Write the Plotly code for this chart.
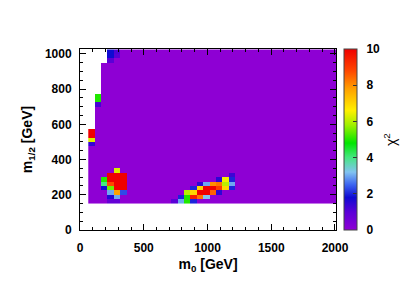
import numpy as np
import plotly.graph_objects as go

# ---- grid of the scan (bin centres) ----
m0_centers = [90 + 50 * k for k in range(39)]          # GeV
m12_centers = [162.5 + 25 * j for j in range(35)]      # GeV

# ---- region covered by the scan: lower m0 edge for bands in m1/2 ----
band_top_m12 = [575, 775, 950, 1025]
band_min_m0 = [65, 115, 165, 215]

# ---- colour-bar ticks ----
cbar_ticks = [0, 2, 4, 6, 8, 10]

# ---- background chi2 and the non-trivial cells (m0, m1/2, chi2) ----
chi2_background = 0.0
cell_m0 = [
    # left edge
    90, 90, 90, 90,
    140, 140, 140,
    # top
    240, 240, 240, 290, 290,
    # low-m0 blob
    290,
    190, 190, 190,
    240, 240, 240, 240, 240, 240,
    290, 290, 290, 290, 290, 290,
    340, 340, 340, 340, 340,
    240, 290,
    # diagonal streak
    740, 790, 840, 890,
    790, 840, 890, 940, 990,
    840, 890, 940, 990, 1040, 1090,
    890, 940, 990, 1040, 1090, 1140, 1190,
    940, 990, 1040, 1090, 1140, 1190,
    1090, 1140, 1190,
    1190,
]
cell_m12 = [
    562.5, 537.5, 512.5, 487.5,
    762.5, 737.5, 712.5,
    1012.5, 987.5, 962.5, 1012.5, 987.5,
    337.5,
    287.5, 262.5, 237.5,
    312.5, 287.5, 262.5, 237.5, 212.5, 187.5,
    312.5, 287.5, 262.5, 237.5, 212.5, 187.5,
    312.5, 287.5, 262.5, 237.5, 212.5,
    162.5, 162.5,
    162.5, 162.5, 162.5, 162.5,
    187.5, 187.5, 187.5, 187.5, 187.5,
    212.5, 212.5, 212.5, 212.5, 212.5, 212.5,
    237.5, 237.5, 237.5, 237.5, 237.5, 237.5, 237.5,
    262.5, 262.5, 262.5, 262.5, 262.5, 262.5,
    287.5, 287.5, 287.5,
    312.5,
]
cell_chi2 = [
    10, 10, 6.3, 1.4,
    5.0, 5.0, 1.2,
    1.8, 1.8, 1.0, 1.1, 1.0,
    6.3,
    5.0, 4.0, 1.8,
    10, 10, 8.8, 5.5, 3.0, 1.6,
    10, 10, 10, 10, 7.8, 3.0,
    10, 10, 10, 10, 2.3,
    0.8, 0.8,
    1.0, 3.0, 5.0, 2.0,
    2.0, 5.0, 9.5, 8.3, 3.2,
    6.0, 7.0, 10, 10, 8.5, 1.5,
    2.0, 7.0, 10, 10, 9.0, 7.0, 2.0,
    1.5, 3.0, 8.0, 8.3, 6.0, 3.0,
    1.5, 6.5, 2.0,
    1.3,
]

# ---- build the z matrix ----
Z = np.full((len(m12_centers), len(m0_centers)), np.nan)
for j, y in enumerate(m12_centers):
    lo_band = 0
    for b, top in enumerate(band_top_m12):
        if y < top:
            lo_band = b
            break
    for i, x in enumerate(m0_centers):
        if x > band_min_m0[lo_band]:
            Z[j, i] = chi2_background
for x, y, c in zip(cell_m0, cell_m12, cell_chi2):
    i = m0_centers.index(x)
    j = m12_centers.index(y)
    Z[j, i] = c

colorscale = [
    [0.00, "rgb(142,0,212)"],
    [0.10, "rgb(90,0,215)"],
    [0.18, "rgb(15,10,210)"],
    [0.25, "rgb(60,100,240)"],
    [0.32, "rgb(130,195,240)"],
    [0.40, "rgb(70,230,130)"],
    [0.48, "rgb(0,230,0)"],
    [0.58, "rgb(160,240,0)"],
    [0.66, "rgb(255,240,0)"],
    [0.78, "rgb(255,160,0)"],
    [0.88, "rgb(255,70,0)"],
    [1.00, "rgb(240,0,0)"],
]

FONT = "Liberation Sans"
PAD = "\u2002"  # small gap between colour bar and its labels

fig = go.Figure(
    go.Heatmap(
        x=m0_centers,
        y=m12_centers,
        z=Z,
        zmin=0,
        zmax=10,
        colorscale=colorscale,
        hoverongaps=False,
        colorbar=dict(
            thickness=13,
            thicknessmode="pixels",
            len=1,
            lenmode="fraction",
            x=1.031,
            xanchor="left",
            y=0.5,
            yanchor="middle",
            xpad=0,
            ypad=0,
            outlinewidth=1,
            outlinecolor="#444",
            ticks="inside",
            ticklen=4,
            tickcolor="#333",
            tickvals=cbar_ticks,
            ticktext=[PAD + str(t) for t in cbar_ticks],
            tickfont=dict(family=FONT, size=12, color="black", weight="bold"),
        ),
    )
)

axis_common = dict(
    showline=True,
    linecolor="black",
    linewidth=1,
    mirror="ticks",
    ticks="inside",
    ticklen=6,
    tickcolor="black",
    showgrid=False,
    zeroline=False,
    tickfont=dict(family=FONT, size=12, color="black", weight="bold"),
)

# the page adds an 8 px body margin, so margins are reduced by 8 px
fig.update_layout(
    width=417,
    height=292,
    margin=dict(l=72, r=89, t=41, b=70),
    paper_bgcolor="white",
    plot_bgcolor="white",
    font=dict(family=FONT, color="black"),
    xaxis=dict(
        range=[0, 2008],
        tickvals=[0, 500, 1000, 1500, 2000],
        ticklabelstandoff=7,
        minor=dict(dtick=100, tick0=0, ticks="inside", ticklen=3, tickcolor="black"),
        title=dict(
            text="m<sub>0</sub> [GeV]",
            font=dict(family=FONT, size=14, color="black", weight="bold"),
            standoff=4,
        ),
        **axis_common,
    ),
    yaxis=dict(
        range=[0, 1028],
        tickvals=[0, 200, 400, 600, 800, 1000],
        ticklabelstandoff=5,
        minor=dict(dtick=50, tick0=0, ticks="inside", ticklen=3, tickcolor="black"),
        title=dict(
            text="m<sub>1/2</sub> [GeV]",
            font=dict(family=FONT, size=14, color="black", weight="bold"),
            standoff=8,
        ),
        **axis_common,
    ),
    annotations=[
        dict(
            text="χ<sup>2</sup>",
            xref="paper",
            yref="paper",
            x=1.211,
            y=0.497,
            xanchor="center",
            yanchor="middle",
            textangle=-90,
            showarrow=False,
            font=dict(family=FONT, size=14, color="black"),
        )
    ],
)

fig.write_html("out.html")
